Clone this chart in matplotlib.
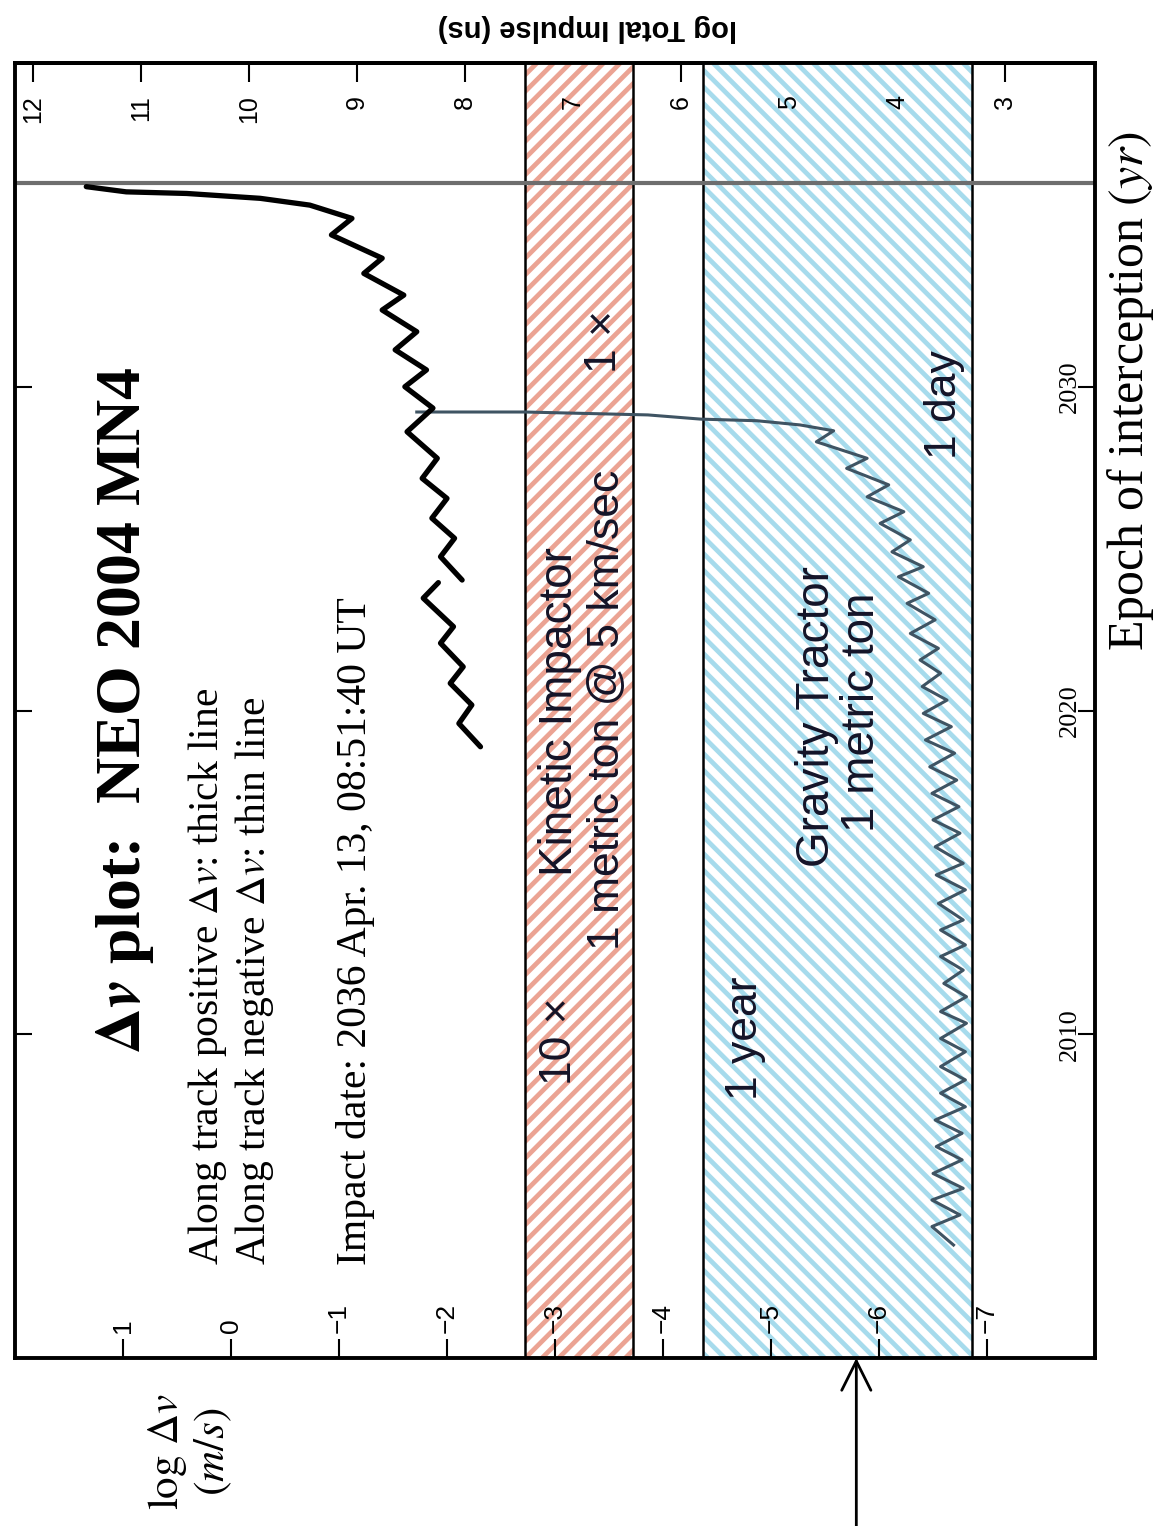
import matplotlib
matplotlib.use("Agg")
from matplotlib import pyplot as plt

plt.rcParams['mathtext.fontset'] = 'stix'
plt.rcParams['hatch.linewidth'] = 3.4

# Positive along-track dv (thick line), two pieces
pos_a_years = [2018.88, 2019.60, 2020.17, 2020.84, 2021.35, 2022.08, 2022.59, 2023.47, 2023.95]
pos_a_dv = [-2.31, -2.11, -2.23, -2.03, -2.15, -1.94, -2.06, -1.78, -1.92]

pos_b_years = [2024.03, 2024.75, 2025.32, 2025.94, 2026.55, 2027.17, 2027.79, 2028.61,
               2029.34, 2030.00, 2030.52, 2031.14, 2031.70, 2032.37, 2032.83, 2033.50,
               2033.97, 2034.69, 2035.20, 2035.61, 2035.82, 2035.97, 2036.02, 2036.18]
pos_b_dv = [-2.14, -1.94, -2.07, -1.86, -2.00, -1.77, -1.91, -1.63,
            -1.87, -1.61, -1.81, -1.52, -1.72, -1.40, -1.60, -1.23,
            -1.40, -0.93, -1.12, -0.73, -0.27, 0.41, 0.97, 1.34]

# Negative along-track dv (thin line)
neg_years = [2003.49, 2004.06, 2004.42, 2004.88, 2005.24, 2005.70, 2006.12, 2006.53,
             2006.94, 2007.35, 2007.76, 2008.18, 2008.59, 2009.00, 2009.46, 2009.87,
             2010.34, 2010.70, 2011.16, 2011.57, 2011.98, 2012.40, 2012.76, 2013.22,
             2013.53, 2014.04, 2014.46, 2014.92, 2015.28, 2015.79, 2016.21, 2016.62,
             2017.03, 2017.44, 2017.85, 2018.26, 2018.68, 2019.09, 2019.50, 2019.91,
             2020.32, 2020.74, 2021.15, 2021.56, 2021.92, 2022.38, 2022.80, 2023.31,
             2023.62, 2024.13, 2024.44, 2024.90, 2025.27, 2025.78, 2026.14, 2026.60,
             2026.97, 2027.48, 2027.79, 2028.30, 2028.64, 2028.82, 2028.95, 2029.00,
             2029.13, 2029.22, 2029.22]
neg_dv = [-6.69, -6.49, -6.75, -6.49, -6.78, -6.50, -6.77, -6.53,
          -6.77, -6.52, -6.80, -6.57, -6.80, -6.57, -6.80, -6.57,
          -6.81, -6.57, -6.81, -6.60, -6.78, -6.57, -6.80, -6.57,
          -6.78, -6.55, -6.80, -6.53, -6.78, -6.52, -6.75, -6.50,
          -6.74, -6.49, -6.72, -6.47, -6.70, -6.43, -6.67, -6.41,
          -6.63, -6.40, -6.57, -6.38, -6.55, -6.29, -6.52, -6.26,
          -6.46, -6.18, -6.41, -6.12, -6.29, -6.01, -6.23, -5.89,
          -6.09, -5.70, -5.89, -5.42, -5.58, -5.27, -4.87, -4.35,
          -3.86, -2.72, -1.72]

# Bands (log dv)
kinetic_band = (-2.72, -3.72)
tractor_band = (-4.37, -6.86)

impact_year = 2036.28
arrow_dv = -5.79

dv_ticks = [1, 0, -1, -2, -3, -4, -5, -6, -7]
impulse_ticks = [3, 4, 5, 6, 7, 8, 9, 10, 11, 12]
impulse_offset = 10.167
year_ticks = [2010, 2020, 2030]

serif = 'Liberation Serif'
sans = 'Liberation Sans'

fig = plt.figure(figsize=(11.57, 15.26), dpi=100)
ax = fig.add_axes([15 / 1157, 1 - 1358 / 1526, 1080 / 1157, 1295 / 1526])
ax.set_xlim(2, -8)
ax.set_ylim(2000, 2040)

# Hatched bands with black edges
ax.axvspan(kinetic_band[0], kinetic_band[1], facecolor='white', edgecolor='#eba393',
           hatch='//', linewidth=0, zorder=1)
ax.axvspan(tractor_band[0], tractor_band[1], facecolor='white', edgecolor='#a6dbec',
           hatch='\\\\', linewidth=0, zorder=1)
for edge in list(kinetic_band) + list(tractor_band):
    ax.axvline(edge, color='black', lw=1.8, zorder=2)

ax.axhline(impact_year, color='#6e6e6e', lw=3, zorder=2)

ax.plot(neg_dv, neg_years, color='#3f5463', lw=2.2, solid_joinstyle='round', zorder=3)
ax.plot(pos_a_dv, pos_a_years, color='black', lw=3.8, solid_joinstyle='round',
        solid_capstyle='round', zorder=4)
ax.plot(pos_b_dv, pos_b_years, color='black', lw=3.8, solid_joinstyle='round',
        solid_capstyle='round', zorder=4)

# Frame and ticks
for s in ax.spines.values():
    s.set_linewidth(2.8)
ax.set_xticks(dv_ticks)
ax.set_yticks(year_ticks)
ax.tick_params(axis='x', direction='in', length=14, width=1.5, top=False, labelbottom=False)
ax.tick_params(axis='y', direction='in', length=12, width=1.5, left=True, right=True,
               labelleft=False, labelright=False)

sec = ax.secondary_xaxis('top', functions=(lambda v: v + impulse_offset,
                                           lambda t: t - impulse_offset))
sec.set_xticks(impulse_ticks)
sec.tick_params(direction='in', length=14, width=1.5, labeltop=False)
sec.spines['top'].set_linewidth(2.8)

xt = ax.get_xaxis_transform()
yt = ax.get_yaxis_transform()
for v in dv_ticks:
    lab = str(v).replace('-', '\u2212')
    ax.text(v, 0.0193, lab, transform=xt, rotation=90, ha='center', va='bottom',
            fontsize=19, family=sans)
for t in impulse_ticks:
    ax.text(t - impulse_offset, 0.975, str(t), transform=xt, rotation=90, ha='center',
            va='top', fontsize=18, family=sans)
for y in year_ticks:
    ax.text(0.977, y, str(y), transform=yt, rotation=90, ha='center', va='center',
            fontsize=19, family=serif)

# Annotations (all rotated)
ta = ax.transAxes
ax.text(0.102, 0.5, r'$\mathbf{\Delta}\mathbfit{v}$ plot:  NEO 2004 MN4', transform=ta,
        rotation=90, ha='center', va='center', fontsize=46, weight='bold', family=serif)
ax.text(0.178, 0.0718, r'Along track positive $\Delta v$: thick line', transform=ta,
        rotation=90, ha='center', va='bottom', fontsize=30, family=serif)
ax.text(0.222, 0.0718, r'Along track negative $\Delta v$: thin line', transform=ta,
        rotation=90, ha='center', va='bottom', fontsize=30, family=serif)
ax.text(0.315, 0.0718, 'Impact date: 2036 Apr. 13, 08:51:40 UT', transform=ta,
        rotation=90, ha='center', va='bottom', fontsize=30, family=serif)

band_text = '#141428'
ax.text(0.5046, 0.499, 'Kinetic Impactor', transform=ta, rotation=90, ha='center',
        va='center', fontsize=33, family=sans, color=band_text, zorder=5)
ax.text(0.549, 0.5004, '1 metric ton @ 5 km/sec', transform=ta, rotation=90, ha='center',
        va='center', fontsize=32, family=sans, color=band_text, zorder=5)
ax.text(0.5046, 0.2108, '10 \u00d7', transform=ta, rotation=90, ha='center',
        va='bottom', fontsize=32, family=sans, color=band_text, zorder=5)
ax.text(0.546, 0.809, '1 \u00d7', transform=ta, rotation=90, ha='center',
        va='top', fontsize=32, family=sans, color=band_text, zorder=5)
ax.text(0.676, 0.199, '1 year', transform=ta, rotation=90, ha='center',
        va='bottom', fontsize=32, family=sans, color=band_text, zorder=5)
ax.text(0.7426, 0.495, 'Gravity Tractor', transform=ta, rotation=90, ha='center',
        va='center', fontsize=33, family=sans, color=band_text, zorder=5)
ax.text(0.784, 0.499, '1 metric ton', transform=ta, rotation=90, ha='center',
        va='center', fontsize=33, family=sans, color=band_text, zorder=5)
ax.text(0.861, 0.778, '1 day', transform=ta, rotation=90, ha='center',
        va='top', fontsize=32, family=sans, color=band_text, zorder=5)

# Axis labels placed around the frame
fig.text(587 / 1157, 1 - 28 / 1526, 'log Total Impulse (ns)', rotation=180, ha='center',
         va='center', fontsize=21, weight='bold', family=sans)
fig.text(1130 / 1157, 1 - 391 / 1526, r'Epoch of interception $(yr)$', rotation=90,
         ha='center', va='center', fontsize=36, family=serif)
fig.text(190 / 1157, 1 - 1452 / 1526, '$\\log\\,\\Delta v$\n$(m/s)$', rotation=90,
         ha='center', va='center', fontsize=31, family=serif, multialignment='center',
         linespacing=1.1)

ax.annotate('', xy=(arrow_dv, 0.0), xytext=(arrow_dv, -0.13), xycoords=xt,
            arrowprops=dict(arrowstyle='->,head_length=0.7,head_width=0.35',
                            lw=2, color='black', mutation_scale=30, shrinkA=0, shrinkB=0),
            annotation_clip=False)

fig.savefig('out.png', dpi=100)
